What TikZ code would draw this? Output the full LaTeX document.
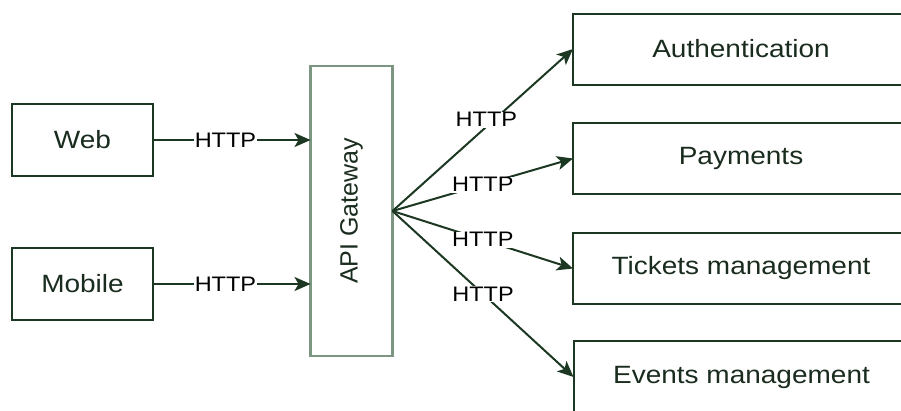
\documentclass[tikz,border=0pt]{standalone}
\usepackage{fontspec}
\setmainfont{Liberation Sans}[FakeStretch=1.12]
\newfontfamily\plainsans{Liberation Sans}
\usetikzlibrary{arrows.meta}
\definecolor{dkgreen}{RGB}{28,56,34}
\definecolor{gwgreen}{RGB}{125,150,130}
\definecolor{txtgreen}{RGB}{26,44,30}
\tikzset{
  svcbox/.style={draw=dkgreen, line width=2pt, fill=white, minimum width=336pt, minimum height=71pt, inner sep=0pt, outer sep=0pt, text=txtgreen, font=\fontsize{25}{30}\selectfont},
  clientbox/.style={draw=dkgreen, line width=2pt, fill=white, minimum width=141pt, minimum height=72pt, inner sep=0pt, outer sep=0pt, text=txtgreen, font=\fontsize{25}{30}\selectfont},
  gwbox/.style={draw=gwgreen, line width=2.5pt, fill=white, minimum width=82pt, minimum height=290pt, inner sep=0pt, outer sep=0pt},
  conn/.style={draw=dkgreen, line width=2pt, -{Stealth[length=16pt,width=14pt,inset=4pt]}},
  lbl/.style={fill=white, inner sep=1pt, text=black, font=\fontsize{21}{25}\selectfont}
}
\begin{document}
\begin{tikzpicture}[x=1pt,y=-1pt]
\useasboundingbox (0,0) rectangle (901,410);
\clip (0,0) rectangle (901,410);
\node[clientbox] (web) at (82.5,140) {Web};
\node[clientbox] (mobile) at (82.5,284) {Mobile};
\node[gwbox] (gw) at (351.5,211) {};
\node[rotate=90, text=txtgreen, font=\plainsans\fontsize{25}{30}\selectfont] (gwlabel) at (gw.center) {API Gateway};
\node[svcbox] (auth) at (741,49) {Authentication};
\node[svcbox] (pay) at (741,158.5) {Payments};
\node[svcbox] (tick) at (741,268.5) {Tickets management};
\node[svcbox, minimum height=72pt] (evt) at (741.5,377) {Events management};
\draw[conn] (web.east) -- node[lbl, pos=0.46] {HTTP} (web.east -| gw.west);
\draw[conn] (mobile.east) -- node[lbl, pos=0.46] {HTTP} (mobile.east -| gw.west);
\draw[conn] (gw.east) -- node[lbl, pos=0.52, yshift=7pt] {HTTP} (auth.west);
\draw[conn] (gw.east) -- node[lbl, pos=0.5] {HTTP} (pay.west);
\draw[conn] (gw.east) -- node[lbl, pos=0.5] {HTTP} (tick.west);
\draw[conn] (gw.east) -- node[lbl, pos=0.5] {HTTP} (evt.west);
\end{tikzpicture}
\end{document}
